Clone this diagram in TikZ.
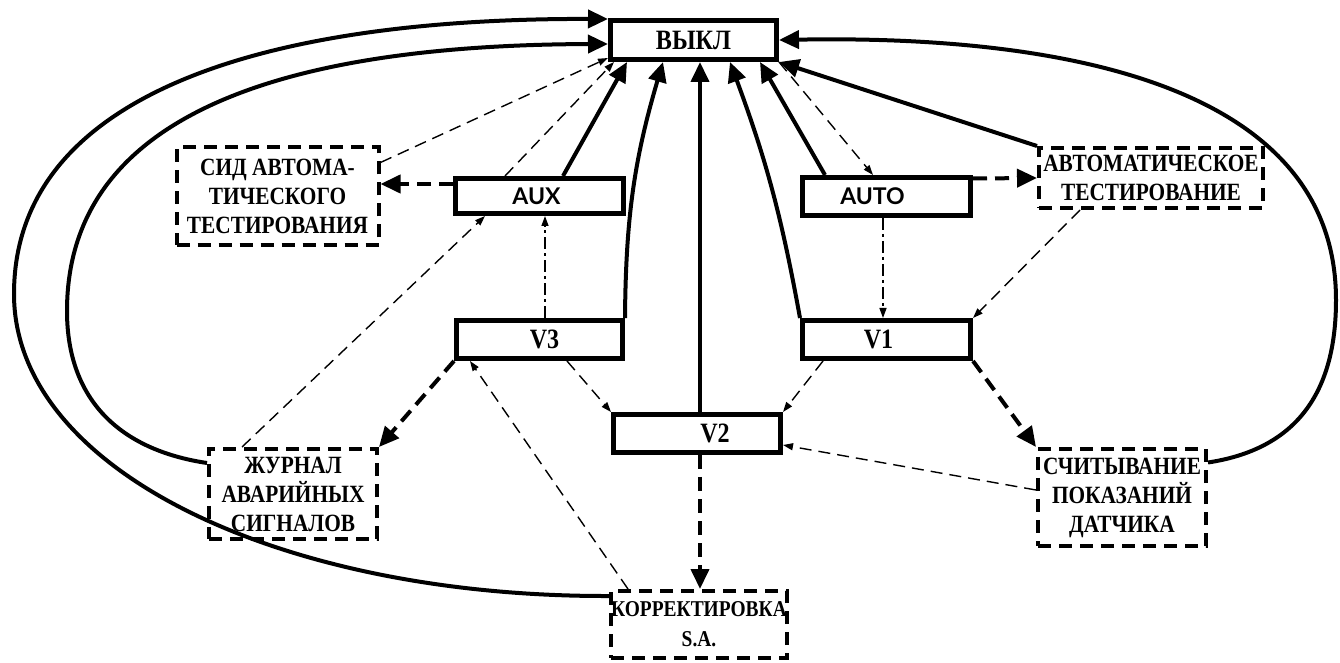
\documentclass[tikz,border=0pt]{standalone}
\usepackage{fontspec}
\setmainfont{Liberation Serif}
\newfontfamily\lblfont[FakeStretch=0.86]{Liberation Serif}
\newfontfamily\sansfnt{Lato}
\usetikzlibrary{arrows.meta,calc}
\begin{document}
\begin{tikzpicture}[x=0.5pt,y=-0.5pt,
  solidbox/.style={draw, line width=2.5pt, inner sep=0pt, align=center,
    font=\lblfont\bfseries\fontsize{14}{16}\selectfont},
  sansbox/.style={solidbox, font=\sansfnt\bfseries\fontsize{11.5}{13}\selectfont},
  dashbox/.style={draw, line width=2pt, dash pattern=on 6.5pt off 4pt, inner sep=0pt, align=center,
    font=\lblfont\bfseries\fontsize{12.4}{14.5}\selectfont},
  thk/.style={line width=2pt, -{Triangle[length=10pt,width=9pt]}},
  thkd/.style={line width=2pt, dash pattern=on 7pt off 4pt, -{Triangle[length=10pt,width=9pt]}},
  thn/.style={line width=0.7pt, dash pattern=on 6pt off 3.5pt, -{Triangle[length=5pt,width=3.5pt]}},
  thndd/.style={line width=0.7pt, dash pattern=on 6pt off 2pt on 1.5pt off 2pt, -{Triangle[length=5pt,width=3.5pt]}}
]
\useasboundingbox (0,0) rectangle (1340,663);

% nodes
\node[solidbox, minimum width=83pt, minimum height=19.5pt] (off) at (693.5,40) {ВЫКЛ};
\node[dashbox, minimum width=101pt, minimum height=49pt] (sid) at (277.5,196.5) {СИД АВТОМА-\\ТИЧЕСКОГО\\ТЕСТИРОВАНИЯ};
\node[sansbox, minimum width=84pt, minimum height=17.5pt] (aux) at (539.5,196) {\hspace*{-3pt}AUX};
\node[sansbox, minimum width=84pt, minimum height=19pt] (auto) at (886.5,196.5) {\hspace*{-14pt}AUTO};
\node[dashbox, minimum width=112pt, minimum height=30pt] (avt) at (1151,178) {АВТОМАТИЧЕСКОЕ\\ТЕСТИРОВАНИЕ};
\node[solidbox, minimum width=83pt, minimum height=19pt] (v3) at (539.5,339.5) {V3\hspace*{-5pt}};
\node[solidbox, minimum width=84pt, minimum height=19pt] (v1) at (886.5,339.5) {\hspace*{-8pt}V1};
\node[solidbox, minimum width=83.5pt, minimum height=19pt] (v2) at (697,433.5) {V2\hspace*{-18pt}};
\node[dashbox, minimum width=84pt, minimum height=45pt] (zh) at (293,494) {ЖУРНАЛ\\АВАРИЙНЫХ\\СИГНАЛОВ};
\node[dashbox, minimum width=88pt, minimum height=33.5pt, font=\lblfont\bfseries\fontsize{11.3}{15}\selectfont] (kor) at (699,624.5) {КОРРЕКТИРОВКА\\S.A.};
\node[dashbox, minimum width=84pt, minimum height=48.5pt] (sch) at (1122,497.5) {СЧИТЫВАНИЕ\\ПОКАЗАНИЙ\\ДАТЧИКА};

% thick solid loops
\draw[thk] ([yshift=-3.5pt]kor.north west) .. controls (280,597) and (14,470) .. (14,294)
  .. controls (14,100) and (250,18) .. ([yshift=-0.5pt]off.north west);
\draw[thk] ([yshift=-8pt]zh.north west) .. controls (120,450) and (67,400) .. (67,311)
  .. controls (67,130) and (250,45) .. ([yshift=-2pt]off.west);
\draw[thk] ([yshift=17.5pt]sch.east) .. controls (1290,450) and (1336,400) .. (1336,300)
  .. controls (1336,80) and (1050,35) .. (off.east);
\draw[thk] (avt.north west) -- (off.south east);

% thick solid to off
\draw[thk] ([xshift=11.75pt]aux.north) -- ([xshift=-33.25pt]off.south);
\draw[thk] (v3.north east) to[bend left=8] ([xshift=-15.25pt]off.south);
\draw[thk] ([xshift=1.5pt]v2.north) -- ([xshift=1.5pt]v2.north |- off.south);
\draw[thk] (v1.north west) to[bend right=5] ([xshift=18.25pt]off.south);
\draw[thk] ([xshift=-30.75pt]auto.north) -- ([xshift=33.25pt]off.south);

% thick dashed
\draw[thkd] ([yshift=6pt]aux.west) -- ([yshift=6pt]aux.west -| sid.east);
\draw[thkd] ([yshift=9pt]auto.east) -- (avt.west);
\draw[thkd] (v3.south west) -- (zh.north east);
\draw[thkd] (v1.south east) -- (sch.north west);
\draw[thkd] ([xshift=1.5pt]v2.south) -- ([xshift=1.5pt]v2.south |- kor.north);

% thin dashed
\draw[thn] ([yshift=-8.5pt]sid.north east) -- ([yshift=2pt]off.south west);
\draw[thn] ([xshift=-17.25pt]aux.north) -- ([xshift=3pt]off.south west);
\draw[thn] (off.south east) -- ([xshift=-6.75pt]auto.north);
\draw[thndd] ([xshift=2.75pt]v3.north) -- ([xshift=2.75pt]v3.north |- aux.south);
\draw[thndd] ([xshift=-1.75pt]auto.south) -- ([xshift=-1.75pt]auto.south |- v1.north);
\draw[thn] ([xshift=-25.5pt]zh.north) -- ([xshift=-27.25pt]aux.south);
\draw[thn] ([xshift=-35.5pt]avt.south) -- (v1.north east);
\draw[thn] ([xshift=13.75pt]v3.south) -- (v2.north west);
\draw[thn] ([xshift=-31.75pt]v1.south) -- (v2.north east);
\draw[thn] ([xshift=-35.5pt]kor.north) -- ([xshift=-34.75pt]v3.south);
\draw[thn] ([yshift=3.75pt]sch.west) -- ([yshift=-5.75pt]v2.east);
\end{tikzpicture}
\end{document}
